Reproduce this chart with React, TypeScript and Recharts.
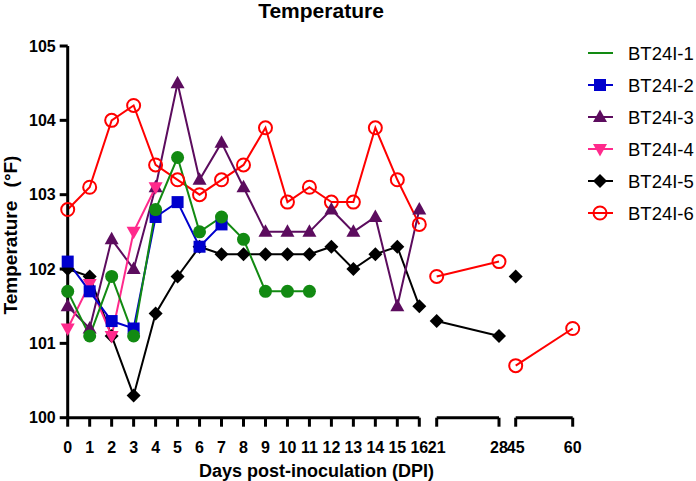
import { Line, LineChart, XAxis, YAxis } from 'recharts';

// Sampling days (the x axis is broken into 0–16, 21–28 and 45–60)
const days = [0, 1, 2, 3, 4, 5, 6, 7, 8, 9, 10, 11, 12, 13, 14, 15, 16, 21, 28, 45, 60];

// Rectal temperature (°F) per animal, null = not measured
const bt1 = [101.7, 101.1, 101.9, 101.1, 102.8, 103.5, 102.5, 102.7, 102.4, 101.7, 101.7, 101.7, null, null, null, null, null, null, null, null, null];
const bt2 = [102.1, 101.7, 101.3, 101.2, 102.7, 102.9, 102.3, 102.6, null, null, null, null, null, null, null, null, null, null, null, null, null];
const bt3 = [101.5, 101.2, 102.4, 102.0, 103.1, 104.5, 103.2, 103.7, 103.1, 102.5, 102.5, 102.5, 102.8, 102.5, 102.7, 101.5, 102.8, null, null, null, null];
const bt4 = [101.2, 101.8, 101.1, 102.5, 103.1, null, null, null, null, null, null, null, null, null, null, null, null, null, null, null, null];
const bt5 = [102.0, 101.9, 101.1, 100.3, 101.4, 101.9, 102.3, 102.2, 102.2, 102.2, 102.2, 102.2, 102.3, 102.0, 102.2, 102.3, 101.5, 101.3, 101.1, 101.9, null];
const bt6 = [102.8, 103.1, 104.0, 104.2, 103.4, 103.2, 103.0, 103.2, 103.4, 103.9, 102.9, 103.1, 102.9, 102.9, 103.9, 103.2, 102.6, 101.9, 102.1, 100.7, 101.2];

const yTicks = [100, 101, 102, 103, 104, 105];

type Shape = 'circle' | 'square' | 'triangle' | 'triangleDown' | 'diamond' | 'ring';

const series: { key: string; name: string; color: string; shape: Shape; values: (number | null)[]; legendDot: boolean }[] = [
  { key: 'bt1', name: 'BT24I-1', color: '#128a12', shape: 'circle', values: bt1, legendDot: false },
  { key: 'bt2', name: 'BT24I-2', color: '#0000cd', shape: 'square', values: bt2, legendDot: true },
  { key: 'bt3', name: 'BT24I-3', color: '#5c0c5e', shape: 'triangle', values: bt3, legendDot: true },
  { key: 'bt4', name: 'BT24I-4', color: '#ff2a8c', shape: 'triangleDown', values: bt4, legendDot: true },
  { key: 'bt5', name: 'BT24I-5', color: '#000000', shape: 'diamond', values: bt5, legendDot: true },
  { key: 'bt6', name: 'BT24I-6', color: '#ff0000', shape: 'ring', values: bt6, legendDot: true },
];

// paint order, bottom first
const drawOrder = ['bt6', 'bt5', 'bt3', 'bt4', 'bt2', 'bt1'];

const rows = days.map((day, i) => {
  const row: Record<string, number | null> = { day };
  series.forEach((s) => (row[s.key] = s.values[i]));
  return row;
});

// pixel layout of the three axis pieces
const W = 696;
const H = 481;
const TOP = 46;
const BOTTOM = 23.3;
const segments = [
  { from: 0, to: 16, left: 67.7, right: 419.3 },
  { from: 21, to: 28, left: 436.7, right: 499 },
  { from: 45, to: 60, left: 515.7, right: 572.7 },
];

function Marker({ shape, cx, cy, color }: { shape: Shape; cx: number; cy: number; color: string }) {
  switch (shape) {
    case 'circle':
      return <circle cx={cx} cy={cy} r={6.5} fill={color} />;
    case 'square':
      return <rect x={cx - 6} y={cy - 6} width={12} height={12} fill={color} />;
    case 'triangle':
      return <path d={`M${cx},${cy - 7.5}L${cx + 7},${cy + 5}L${cx - 7},${cy + 5}Z`} fill={color} />;
    case 'triangleDown':
      return <path d={`M${cx},${cy + 7.5}L${cx + 7},${cy - 5}L${cx - 7},${cy - 5}Z`} fill={color} />;
    case 'diamond':
      return <path d={`M${cx},${cy - 7}L${cx + 7},${cy}L${cx},${cy + 7}L${cx - 7},${cy}Z`} fill={color} />;
    default:
      return <circle cx={cx} cy={cy} r={6.5} fill="none" stroke={color} strokeWidth={2} />;
  }
}

const axisStroke = { stroke: '#000', strokeWidth: 3 };
const tickFont = { fill: '#000', fontSize: 16, fontWeight: 700 };

function Segment({ seg, first }: { seg: (typeof segments)[number]; first: boolean }) {
  const data = rows.filter((r) => (r.day as number) >= seg.from && (r.day as number) <= seg.to);
  const ticks = days.filter((d) => d >= seg.from && d <= seg.to);
  const yWidth = 48;
  const ordered = drawOrder.map((k) => series.find((s) => s.key === k)!);
  return (
    <LineChart
      width={W}
      height={H}
      data={data}
      margin={{ top: TOP, bottom: BOTTOM, left: first ? seg.left - yWidth : seg.left, right: W - seg.right }}
      style={{ position: 'absolute', left: 0, top: 0 }}
    >
      <XAxis
        type="number"
        dataKey="day"
        domain={[seg.from, seg.to]}
        ticks={ticks}
        interval={0}
        height={40}
        tickSize={9}
        tickMargin={15}
        axisLine={axisStroke}
        tickLine={axisStroke}
        tick={tickFont}
      />
      <YAxis
        hide={!first}
        domain={[100, 105]}
        ticks={yTicks}
        width={yWidth}
        tickSize={8}
        tickMargin={4}
        axisLine={axisStroke}
        tickLine={axisStroke}
        tick={tickFont}
      />
      {ordered.map((s) => (
        <Line
          key={s.key}
          dataKey={s.key}
          stroke={s.color}
          strokeWidth={2}
          isAnimationActive={false}
          activeDot={false}
          dot={(p: any) =>
            p.cy == null ? (
              <g key={`${s.key}-${p.index}`} />
            ) : (
              <Marker key={`${s.key}-${p.index}`} shape={s.shape} cx={p.cx} cy={p.cy} color={s.color} />
            )
          }
        />
      ))}
    </LineChart>
  );
}

export default function App() {
  return (
    <div style={{ position: 'relative', width: W, height: H, fontFamily: '"Liberation Sans", Arial, sans-serif', background: '#fff' }}>
      <style>{'body{margin:0}'}</style>
      {segments.map((seg, i) => (
        <Segment key={seg.from} seg={seg} first={i === 0} />
      ))}
      <svg width={W} height={H} style={{ position: 'absolute', left: 0, top: 0, pointerEvents: 'none' }}>
        <text x={321} y={18} textAnchor="middle" fontSize={21} fontWeight={700}>
          Temperature
        </text>
        <text x={316.5} y={477} textAnchor="middle" fontSize={18} fontWeight={700}>
          Days post-inoculation (DPI)
        </text>
        <text transform="translate(16.5,235) rotate(-90)" textAnchor="middle" fontSize={19} fontWeight={700} wordSpacing={8}>
          Temperature (°F)
        </text>
        {series.map((s, i) => {
          const y = 53 + i * 32;
          return (
            <g key={s.key}>
              <line x1={588} x2={613} y1={y} y2={y} stroke={s.color} strokeWidth={2} />
              {s.legendDot && <Marker shape={s.shape} cx={600} cy={y} color={s.color} />}
              <text x={628} y={y + 6.5} fontSize={18.5}>
                {s.name}
              </text>
            </g>
          );
        })}
      </svg>
    </div>
  );
}
